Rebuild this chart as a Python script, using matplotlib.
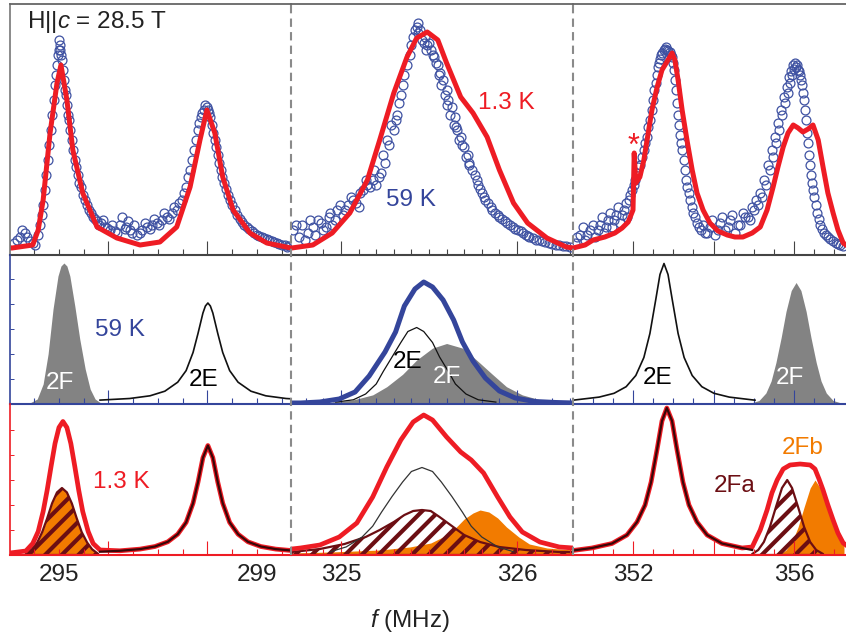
import numpy as np
import matplotlib
matplotlib.use('Agg')
import matplotlib.pyplot as plt
from matplotlib.lines import Line2D

plt.rcParams['font.family'] = ['Liberation Sans', 'DejaVu Sans']
plt.rcParams['mathtext.fontset'] = 'custom'
plt.rcParams['mathtext.it'] = 'Liberation Sans:italic'
plt.rcParams['mathtext.rm'] = 'Liberation Sans'
plt.rcParams['hatch.linewidth'] = 3.0

# ---------------- data (f in MHz, intensity in arb. units) ----------------
# top row: measured spectra, 59 K (circles, two sweeps) and 1.3 K (line)
b59_f1 = [294.09, 294.21, 294.31, 294.41, 294.52, 294.62, 294.68, 294.74, 294.80, 294.86,
          294.92, 294.96, 295.00, 295.02, 295.04, 295.08, 295.12, 295.16, 295.20, 295.26,
          295.32, 295.38, 295.44, 295.53, 295.61, 295.69, 295.77, 295.85, 295.93, 296.03,
          296.13, 296.23, 296.33, 296.39, 296.47, 296.58, 296.68, 296.78, 296.88, 296.98,
          297.08, 297.18, 297.28, 297.38, 297.48, 297.57, 297.65, 297.73, 297.81, 297.87,
          297.93, 297.99, 298.03, 298.09, 298.15, 298.21, 298.27, 298.33, 298.41, 298.49,
          298.60, 298.70, 298.80, 298.90, 299.00, 299.10, 299.20, 299.30, 299.40, 299.51, 299.61]
b59_h1 = [12, 18, 22, 14, 10, 30, 50, 80, 110, 140,
          170, 190, 205, 210, 200, 185, 165, 150, 135, 115,
          95, 80, 68, 55, 45, 38, 34, 32, 28, 25,
          24, 30, 26, 34, 22, 20, 25, 28, 30, 32,
          35, 38, 42, 45, 55, 68, 85, 105, 125, 138,
          145, 148, 142, 130, 115, 100, 85, 72, 60, 50,
          40, 33, 28, 24, 20, 18, 16, 14, 12, 10, 8]
b59_f1b = [294.15, 294.26, 294.36, 294.47, 294.57, 294.65, 294.71, 294.77, 294.83, 294.89,
           294.94, 294.98, 295.01, 295.03, 295.06, 295.10, 295.14, 295.18, 295.23, 295.29,
           295.35, 295.41, 295.48, 295.57, 295.65, 295.73, 295.81, 295.89, 295.98, 296.08,
           296.18, 296.28, 296.36, 296.43, 296.52, 296.63, 296.73, 296.83, 296.93, 297.03,
           297.13, 297.23, 297.33, 297.43, 297.52, 297.61, 297.69, 297.77, 297.84, 297.90,
           297.96, 298.01, 298.06, 298.12, 298.18, 298.24, 298.30, 298.37, 298.45, 298.55,
           298.65, 298.75, 298.85, 298.95, 299.05, 299.15, 299.25, 299.35, 299.45, 299.56, 299.65]
b59_h1b = [15, 25, 18, 12, 20, 40, 65, 95, 125, 155,
           180, 200, 215, 205, 195, 175, 160, 140, 125, 105,
           88, 72, 60, 50, 42, 36, 30, 35, 27, 30,
           22, 38, 28, 25, 30, 22, 32, 26, 36, 30,
           42, 36, 48, 52, 62, 78, 95, 115, 132, 142,
           150, 145, 138, 122, 108, 92, 78, 66, 55, 45,
           36, 30, 26, 22, 19, 17, 15, 13, 11, 10, 9]
b59_f2 = [324.73, 324.76, 324.78, 324.81, 324.84, 324.87, 324.90, 324.93, 324.95, 324.98,
          325.01, 325.04, 325.07, 325.10, 325.125, 325.15, 325.18, 325.20, 325.23, 325.25,
          325.27, 325.30, 325.32, 325.34, 325.36, 325.39, 325.41, 325.43, 325.44, 325.46,
          325.48, 325.49, 325.51, 325.53, 325.55, 325.56, 325.58, 325.60, 325.61, 325.63,
          325.65, 325.66, 325.68, 325.70, 325.72, 325.73, 325.76, 325.78, 325.80, 325.82,
          325.85, 325.875, 325.90, 325.93, 325.96, 325.99, 326.02, 326.05, 326.07, 326.11,
          326.14, 326.18, 326.22, 326.26, 326.30]
b59_h2 = [25, 18, 30, 22, 28, 35, 25, 38, 30, 45,
          40, 50, 55, 48, 65, 70, 75, 70, 82, 92,
          110, 125, 140, 160, 180, 200, 218, 228, 222, 215,
          218, 210, 205, 198, 190, 182, 175, 165, 155, 148,
          138, 125, 118, 108, 100, 90, 80, 70, 62, 55,
          48, 42, 38, 34, 30, 26, 24, 20, 18, 15,
          14, 12, 10, 9, 8]
b59_f2b = [324.745, 324.795, 324.825, 324.855, 324.885, 324.915, 324.94, 324.965, 324.995, 325.025,
           325.055, 325.085, 325.11, 325.14, 325.165, 325.19, 325.215, 325.24, 325.26, 325.285,
           325.31, 325.33, 325.35, 325.375, 325.40, 325.42, 325.435, 325.45, 325.47, 325.485,
           325.50, 325.52, 325.54, 325.555, 325.57, 325.59, 325.605, 325.62, 325.64, 325.655,
           325.67, 325.69, 325.71, 325.725, 325.745, 325.77, 325.79, 325.81, 325.835, 325.86,
           325.89, 325.915, 325.945, 325.975, 326.005, 326.035, 326.06, 326.09, 326.125, 326.16,
           326.20, 326.24, 326.28]
b59_h2b = [30, 15, 35, 20, 32, 28, 42, 35, 50, 45,
           58, 52, 62, 75, 68, 85, 78, 100, 115, 130,
           135, 152, 170, 190, 210, 225, 232, 225, 212, 205,
           212, 200, 192, 180, 170, 160, 150, 140, 130, 128,
           115, 110, 98, 92, 85, 75, 66, 58, 52, 45,
           40, 36, 32, 28, 25, 22, 19, 17, 15, 13,
           11, 10, 9]
b59_f3 = [350.56, 350.68, 350.81, 350.93, 351.06, 351.18, 351.28, 351.38, 351.48, 351.58,
          351.68, 351.78, 351.85, 351.93, 352.02, 352.10, 352.17, 352.27, 352.35, 352.42,
          352.50, 352.57, 352.62, 352.67, 352.72, 352.80, 352.84, 352.92, 352.97, 353.02,
          353.07, 353.12, 353.17, 353.22, 353.29, 353.34, 353.42, 353.49, 353.59, 353.69,
          353.79, 353.91, 354.04, 354.16, 354.29, 354.41, 354.53, 354.66, 354.78, 354.91,
          355.01, 355.11, 355.20, 355.30, 355.40, 355.48, 355.55, 355.63, 355.70, 355.78,
          355.85, 355.90, 355.95, 356.00, 356.05, 356.10, 356.15, 356.20, 356.25, 356.30,
          356.35, 356.40, 356.45, 356.50, 356.57, 356.65, 356.75, 356.84, 356.97, 357.09, 357.22]
b59_h3 = [12, 20, 15, 25, 18, 30, 22, 35, 28, 40,
          32, 45, 38, 60, 70, 82, 90, 105, 118, 135,
          155, 172, 188, 196, 202, 206, 205, 203, 198, 185,
          165, 140, 120, 105, 85, 68, 55, 42, 32, 25,
          22, 28, 20, 32, 25, 35, 22, 30, 38, 35,
          45, 50, 58, 70, 85, 98, 112, 125, 140, 152,
          162, 172, 180, 186, 188, 185, 180, 170, 155, 135,
          112, 90, 72, 58, 42, 30, 22, 18, 14, 11, 9]
b59_f3b = [350.62, 350.75, 350.87, 351.00, 351.12, 351.23, 351.33, 351.43, 351.53, 351.63,
           351.73, 351.82, 351.89, 351.97, 352.06, 352.13, 352.22, 352.31, 352.38, 352.46,
           352.53, 352.60, 352.65, 352.70, 352.76, 352.82, 352.88, 352.95, 353.00, 353.04,
           353.10, 353.15, 353.20, 353.26, 353.32, 353.38, 353.46, 353.54, 353.64, 353.74,
           353.85, 353.97, 354.10, 354.22, 354.35, 354.47, 354.60, 354.72, 354.85, 354.96,
           355.06, 355.16, 355.25, 355.35, 355.44, 355.52, 355.59, 355.67, 355.74, 355.82,
           355.88, 355.93, 355.98, 356.03, 356.08, 356.13, 356.18, 356.23, 356.28, 356.33,
           356.38, 356.43, 356.48, 356.54, 356.61, 356.70, 356.80, 356.90, 357.03, 357.15]
b59_h3b = [18, 28, 20, 30, 25, 38, 28, 42, 35, 48,
           40, 52, 55, 65, 75, 88, 98, 112, 128, 145,
           165, 180, 192, 200, 205, 208, 204, 200, 192, 175,
           152, 130, 112, 95, 75, 62, 48, 38, 28, 30,
           22, 35, 25, 38, 28, 40, 30, 42, 38, 48,
           55, 62, 75, 90, 105, 118, 132, 145, 158, 168,
           178, 184, 190, 192, 190, 184, 175, 162, 145, 122,
           100, 80, 65, 50, 36, 26, 20, 16, 12, 10]

r13_f1 = [294.01, 294.05, 294.47, 294.58, 294.68, 294.82, 294.96, 295.04, 295.16, 295.28,
          295.48, 295.77, 296.17, 296.64, 297.04, 297.38, 297.65, 297.85, 297.99, 298.15,
          298.31, 298.52, 298.86, 299.20, 299.69]
r13_h1 = [7, 7, 10, 25, 55, 122, 172, 190, 155, 105,
          62, 28, 17, 10, 13, 28, 68, 115, 145, 122,
          78, 45, 22, 12, 7]
r13_f2 = [324.72, 324.84, 324.95, 325.05, 325.15, 325.22, 325.30, 325.375, 325.43, 325.49,
          325.55, 325.60, 325.68, 325.75, 325.83, 325.90, 325.98, 326.06, 326.17, 326.28, 326.32]
r13_h2 = [7, 10, 22, 42, 75, 115, 162, 198, 217, 223,
          215, 192, 158, 142, 118, 85, 52, 32, 17, 8, 7]
r13_f3 = [350.51, 350.81, 351.01, 351.30, 351.55, 351.73, 351.88, 352.00, 352.03, 352.07,
          352.17, 352.27, 352.35, 352.47, 352.60, 352.72, 352.84, 352.97, 353.04, 353.12,
          353.22, 353.34, 353.47, 353.59, 353.74, 353.91, 354.11, 354.34, 354.53, 354.73,
          354.96, 355.16, 355.33, 355.48, 355.60, 355.73, 355.85, 355.98, 356.10, 356.22,
          356.35, 356.47, 356.60, 356.72, 356.84, 356.97, 357.09, 357.22, 357.29]
r13_h3 = [7, 10, 15, 18, 22, 27, 33, 45, 102, 72,
          78, 95, 115, 145, 168, 185, 193, 202, 195, 175,
          145, 115, 85, 62, 45, 32, 24, 20, 18, 18,
          22, 28, 45, 68, 88, 108, 122, 130, 127, 123,
          126, 130, 115, 88, 62, 42, 25, 12, 10]

# middle row: 59 K simulation
s59_2F_f1 = [294.41, 294.56, 294.68, 294.78, 294.88, 294.98, 295.04, 295.10, 295.16, 295.22,
             295.32, 295.42, 295.53, 295.63, 295.73, 295.83]
s59_2F_h1 = [1, 5, 20, 50, 95, 128, 138, 141, 138, 128,
             98, 65, 35, 15, 5, 1.5]
s59_2E_f1 = [295.83, 296.43, 296.84, 297.14, 297.40, 297.57, 297.71, 297.81, 297.91, 297.96,
             298.01, 298.06, 298.11, 298.21, 298.31, 298.45, 298.62, 298.88, 299.18, 299.59, 299.69]
s59_2E_h1 = [3.9, 5.5, 8.2, 12.8, 21.8, 33.4, 51.5, 70.5, 91, 98,
             101, 98, 91, 70.5, 51.5, 33.4, 21.8, 12.8, 8.2, 5.5, 5.2]
s59_tot_f2 = [324.72, 324.77, 324.88, 324.99, 325.08, 325.16, 325.25, 325.31, 325.36, 325.42,
              325.47, 325.52, 325.58, 325.64, 325.69, 325.75, 325.82, 325.90, 325.99, 326.10,
              326.22, 326.32]
s59_tot_h2 = [1, 1, 2, 5, 12, 28, 52, 72, 98, 115,
              122, 117, 104, 84, 62, 43, 26, 13, 6, 2.5,
              1.5, 1]
s59_2E_f2 = [324.97, 325.07, 325.14, 325.20, 325.24, 325.29, 325.34, 325.38, 325.43, 325.47,
             325.52, 325.56, 325.61, 325.65, 325.71, 325.78, 325.88]
s59_2E_h2 = [1.9, 4.2, 10, 20, 32.5, 47, 61.5, 72.5, 76.5, 72.5,
             61.5, 47, 32.5, 20, 10, 4.2, 1.9]
s59_2F_f2 = [324.95, 325.06, 325.18, 325.26, 325.35, 325.43, 325.52, 325.60, 325.69, 325.77,
             325.86, 325.94, 326.03, 326.14, 326.26]
s59_2F_h2 = [2, 3.7, 9.1, 17.3, 29.7, 44, 55.9, 60.5, 55.9, 44,
             29.7, 17.3, 9.1, 3.7, 2]
s59_2E_f3 = [350.51, 351.16, 351.53, 351.83, 352.07, 352.27, 352.42, 352.57, 352.67, 352.77,
             352.87, 352.97, 353.12, 353.27, 353.47, 353.71, 354.01, 354.39, 355.03]
s59_2E_h3 = [3.8, 6.9, 10.7, 17.3, 28.5, 46.5, 70.5, 105.5, 129.5, 140.5,
             129.5, 105.5, 70.5, 46.5, 28.5, 17.3, 10.7, 6.9, 3.8]
s59_2F_f3 = [354.93, 355.13, 355.30, 355.43, 355.55, 355.68, 355.80, 355.93, 356.05, 356.17,
             356.30, 356.42, 356.55, 356.67, 356.80, 356.97, 357.17]
s59_2F_h3 = [1, 3.5, 11, 23, 41.5, 66.5, 92.5, 113.5, 121.5, 113.5,
             92.5, 66.5, 41.5, 23, 11, 3.5, 1]

# bottom row: 1.3 K simulation
s13_tot_f1 = [294.01, 294.33, 294.47, 294.58, 294.68, 294.76, 294.84, 294.92, 295.00, 295.08,
              295.16, 295.24, 295.32, 295.40, 295.48, 295.59, 295.69, 295.83, 296.23, 296.64,
              296.94, 297.20, 297.40, 297.57, 297.71, 297.81, 297.91, 298.01, 298.11, 298.21,
              298.31, 298.45, 298.62, 298.82, 299.08, 299.38, 299.69]
s13_tot_h1 = [2, 4, 11.5, 23.5, 43.5, 64.5, 88.5, 111.5, 127.5, 133.5,
              127.5, 111.5, 88.5, 64.5, 43.5, 23.5, 11.5, 5, 4.2, 5.9,
              8.5, 13.2, 20.8, 32.6, 51.8, 72.8, 97.3, 109.5, 97.3, 72.8,
              51.8, 32.6, 20.8, 13.2, 8.5, 5.9, 4.5]
s13_2E_f1 = [295.83, 296.23, 296.64, 296.94, 297.20, 297.40, 297.57, 297.71, 297.81, 297.91,
             298.01, 298.11, 298.21, 298.31, 298.45, 298.62, 298.82, 299.08, 299.38, 299.69]
s13_2E_h1 = [3.3, 4.2, 5.9, 8.5, 13.2, 20.8, 32.6, 51.8, 72.8, 97.3,
             109.5, 97.3, 72.8, 51.8, 32.6, 20.8, 13.2, 8.5, 5.9, 4.5]
s13_2F_f1 = [294.33, 294.45, 294.56, 294.66, 294.76, 294.86, 294.96, 295.06, 295.16, 295.26,
             295.36, 295.46, 295.57, 295.67, 295.79]
s13_2F_h1 = [1.2, 5.7, 12.4, 22.8, 36.5, 51.6, 62.6, 67, 62.6, 51.6,
             36.5, 22.8, 12.4, 5.7, 1.2]
s13_tot_f2 = [324.72, 324.77, 324.88, 324.99, 325.09, 325.18, 325.26, 325.34, 325.41, 325.47,
              325.52, 325.60, 325.68, 325.74, 325.81, 325.89, 325.96, 326.03, 326.13, 326.24, 326.32]
s13_tot_h2 = [6, 7, 10, 18, 32, 58, 88, 115, 133, 140,
              135, 118, 103, 95, 82, 58, 38, 23, 13, 8, 7]
s13_2E_f2 = [324.94, 325.03, 325.12, 325.18, 325.23, 325.29, 325.35, 325.40, 325.46, 325.52,
             325.57, 325.63, 325.69, 325.74, 325.80, 325.89, 325.98]
s13_2E_h2 = [3.3, 8.1, 18, 28.8, 42.8, 58.5, 73, 83.5, 87.5, 83.5,
             73, 58.5, 42.8, 28.8, 18, 8.1, 3.3]
s13_2Fa_f2 = [324.72, 324.88, 325.02, 325.14, 325.22, 325.30, 325.36, 325.41, 325.46, 325.51,
              325.56, 325.63, 325.70, 325.79, 325.90, 326.05, 326.24, 326.32]
s13_2Fa_h2 = [3, 6, 11, 18, 25, 33, 40, 44, 45, 44,
              38, 29, 20, 13, 8, 5, 3, 3]
s13_2Fb_f2 = [324.72, 324.94, 325.22, 325.39, 325.51, 325.59, 325.65, 325.70, 325.75, 325.79,
              325.84, 325.89, 325.94, 326.01, 326.07, 326.17, 326.32]
s13_2Fb_h2 = [2, 3, 5, 8, 12, 19, 27, 36, 42, 45,
              43, 37, 28, 18, 11, 7, 5]
s13_tot_f3 = [350.51, 350.98, 351.48, 351.85, 352.10, 352.30, 352.45, 352.60, 352.72, 352.84,
              352.97, 353.09, 353.24, 353.39, 353.59, 353.84, 354.21, 354.71, 354.96, 355.16,
              355.33, 355.45, 355.58, 355.73, 355.90, 356.15, 356.40, 356.52, 356.62, 356.72,
              356.84, 356.97, 357.09, 357.22, 357.29]
s13_tot_h3 = [4.5, 7, 11.5, 20, 33, 50, 73, 106, 134, 147,
              134, 106, 73, 50, 33, 20, 11.5, 7, 8, 25,
              45, 62, 75, 86, 90, 91, 90, 86, 76, 65,
              50, 35, 22, 12, 10]
s13_2E_f3 = s13_tot_f3[:19]
s13_2E_h3 = [4.5, 7, 11.5, 20, 33, 50, 73, 106, 134, 147,
             134, 106, 73, 50, 33, 20, 11.5, 7, 5]
s13_2Fa_f3 = [354.96, 355.11, 355.25, 355.40, 355.55, 355.70, 355.83, 355.95, 356.10, 356.25,
              356.40, 356.55, 356.72]
s13_2Fa_h3 = [1, 5, 13, 28, 48, 67, 75, 67, 48, 28, 13, 5, 1]
s13_2Fb_f3 = [355.65, 355.80, 355.95, 356.10, 356.25, 356.40, 356.52, 356.65, 356.80, 356.94,
              357.09, 357.24]
s13_2Fb_h3 = [1, 5, 13, 28, 48, 67, 75, 67, 52, 35, 20, 10]

# axes ranges and ticks
xlims = [(294.01, 299.69), (324.716, 326.318), (350.51, 357.29)]
short_ticks = [[294.5, 295, 295.5, 296.5, 297, 297.5, 298.5, 299, 299.5],
               [324.8, 324.9, 325.1, 325.2, 325.3, 325.4, 325.5, 325.6, 325.7, 325.8, 325.9,
                326.1, 326.2, 326.3],
               [351, 351.5, 352.5, 353, 353.5, 354.5, 355, 355.5, 356.5, 357]]
long_ticks = [[296, 298], [325, 326], [352, 354, 356]]
tick_labels = [[295, 299], [325, 326], [352, 356]]

blue = '#3f52a2'
blue_line = '#34459b'
red = '#ee1c24'
grey = '#838383'
maroon = '#6c0e13'
orange = '#f27b00'
fs = 17.5

fig = plt.figure(figsize=(8.46, 6.4), dpi=100)
lefts = [10/846, 291/846, 573/846]
widths = [281/846, 282/846, 273/846]
bottoms = [1-255/640, 1-404/640, 1-555/640]
heights = [251/640, 149/640, 151/640]
ylims = [251, 149, 151]
row_cols = ['#444444', blue_line, red]

axs = [[None]*3 for i in range(3)]
for r in range(3):
    for c in range(3):
        ax = fig.add_axes([lefts[c], bottoms[r], widths[c], heights[r]])
        ax.set_xlim(*xlims[c])
        ax.set_ylim(0, ylims[r])
        ax.set_xticks(long_ticks[c], labels=[])
        ax.set_xticks(short_ticks[c], minor=True)
        ax.tick_params(axis='x', which='major', direction='in', length=10, width=0.8, color=row_cols[r])
        ax.tick_params(axis='x', which='minor', direction='in', length=4.5, width=0.8, color=row_cols[r])
        ax.spines['right'].set_visible(False)
        if r > 0:
            ax.spines['top'].set_visible(False)
        else:
            ax.spines['top'].set_color('#666666')
            ax.spines['top'].set_linewidth(1.3)
        ax.spines['bottom'].set_color(row_cols[r])
        ax.spines['bottom'].set_linewidth(1.5)
        if c == 0:
            ax.spines['left'].set_color('#777777' if r == 0 else row_cols[r])
            ax.spines['left'].set_linewidth(1.2)
        else:
            ax.spines['left'].set_visible(False)
        if r > 0 and c == 0:
            ax.set_yticks([25, 50, 75, 100, 125], labels=[])
            ax.tick_params(axis='y', direction='in', length=3, width=0.7, color=row_cols[r])
        else:
            ax.set_yticks([])
        ax.patch.set_alpha(0)
        axs[r][c] = ax

# bottom tick labels
for c in range(3):
    ax = axs[2][c]
    for t in tick_labels[c]:
        ax.text(t, -0.135, str(t), transform=ax.get_xaxis_transform(),
                ha='center', va='center', fontsize=fs, color='#222222')


def hatched(ax, f, h):
    pc = ax.fill_between(f, 0, h, facecolor='none', edgecolor=maroon, hatch='//', lw=1.6)
    if hasattr(pc, 'set_hatch_linewidth'):
        pc.set_hatch_linewidth(3.0)
    return pc


# ---- top row
mk = dict(ls='none', marker='o', mfc='none', mec=blue, ms=6.4, mew=0.9)
for c, (fa, ha, fb, hb) in enumerate([(b59_f1, b59_h1, b59_f1b, b59_h1b),
                                      (b59_f2, b59_h2, b59_f2b, b59_h2b),
                                      (b59_f3, b59_h3, b59_f3b, b59_h3b)]):
    axs[0][c].plot(fa, ha, **mk)
    axs[0][c].plot(fb, hb, **mk)
axs[0][0].plot(r13_f1, r13_h1, color=red, lw=3.6, solid_joinstyle='round')
axs[0][1].plot(r13_f2, r13_h2, color=red, lw=3.6, solid_joinstyle='round')
axs[0][2].plot(r13_f3, r13_h3, color=red, lw=3.6, solid_joinstyle='round')
axs[0][0].text(294.35, 233, 'H||$c$ = 28.5 T', fontsize=fs, va='center', ha='left', color='#222222')
axs[0][1].text(325.40, 55, '59 K', fontsize=fs, color=blue_line, ha='center', va='center')
axs[0][1].text(325.94, 152, '1.3 K', fontsize=fs, color=red, ha='center', va='center')
axs[0][2].text(352.02, 108, '*', fontsize=22, color=red, ha='center', va='center')

# ---- middle row (59 K)
ax = axs[1][0]
ax.fill_between(s59_2F_f1, 0, s59_2F_h1, color=grey, lw=0)
ax.plot(s59_2E_f1, s59_2E_h1, color='#111111', lw=1.2)
ax.text(296.23, 74, '59 K', fontsize=fs, color=blue_line, ha='center', va='center')
ax.text(295.02, 21, '2F', fontsize=fs, color='white', ha='center', va='center')
ax.text(297.93, 24, '2E', fontsize=fs, color='black', ha='center', va='center')
ax = axs[1][1]
ax.fill_between(s59_2F_f2, 0, s59_2F_h2, color=grey, lw=0)
ax.plot(s59_2E_f2, s59_2E_h2, color='#111111', lw=0.9)
ax.plot(s59_tot_f2, s59_tot_h2, color=blue_line, lw=3.6)
ax.text(325.38, 42, '2E', fontsize=fs, color='black', ha='center', va='center')
ax.text(325.60, 27, '2F', fontsize=fs, color='white', ha='center', va='center')
ax = axs[1][2]
ax.fill_between(s59_2F_f3, 0, s59_2F_h3, color=grey, lw=0)
ax.plot(s59_2E_f3, s59_2E_h3, color='#111111', lw=1.2)
ax.text(352.62, 26, '2E', fontsize=fs, color='black', ha='center', va='center')
ax.text(355.90, 26, '2F', fontsize=fs, color='white', ha='center', va='center')

# ---- bottom row (1.3 K)
ax = axs[2][0]
ax.fill_between(s13_2F_f1, 0, s13_2F_h1, color=orange, lw=0)
hatched(ax, s13_2F_f1, s13_2F_h1)
ax.plot(s13_tot_f1, s13_tot_h1, color=red, lw=3.4)
ax.plot(s13_2E_f1, s13_2E_h1, color='#3a0608', lw=1.6)
ax.text(296.27, 73, '1.3 K', fontsize=fs, color=red, ha='center', va='center')
ax = axs[2][1]
ax.plot(s13_2E_f2, s13_2E_h2, color='#333333', lw=0.9)
ax.fill_between(s13_2Fb_f2, 0, s13_2Fb_h2, color=orange, lw=0)
hatched(ax, s13_2Fa_f2, s13_2Fa_h2)
ax.plot(s13_tot_f2, s13_tot_h2, color=red, lw=3.4)
ax = axs[2][2]
ax.fill_between(s13_2Fb_f3, 0, s13_2Fb_h3, color=orange, lw=0)
hatched(ax, s13_2Fa_f3, s13_2Fa_h3)
ax.plot(s13_tot_f3, s13_tot_h3, color=red, lw=3.4)
ax.plot(s13_2E_f3, s13_2E_h3, color='#3a0608', lw=1.6)
ax.text(354.53, 69, '2Fa', fontsize=fs, color=maroon, ha='center', va='center')
ax.text(356.22, 107, '2Fb', fontsize=fs, color=orange, ha='center', va='center')

# dashed separators between the frequency windows
for xb in [291/846, 573/846]:
    fig.add_artist(Line2D([xb, xb], [1-555/640, 1-5/640], transform=fig.transFigure,
                          color='#8a8a8a', lw=1.5, dashes=(4, 2.5)))

fig.text(410/846, 1-620/640, '$f$ (MHz)', fontsize=fs, ha='center', va='center', color='#222222')

fig.savefig('out.png', dpi=100)
